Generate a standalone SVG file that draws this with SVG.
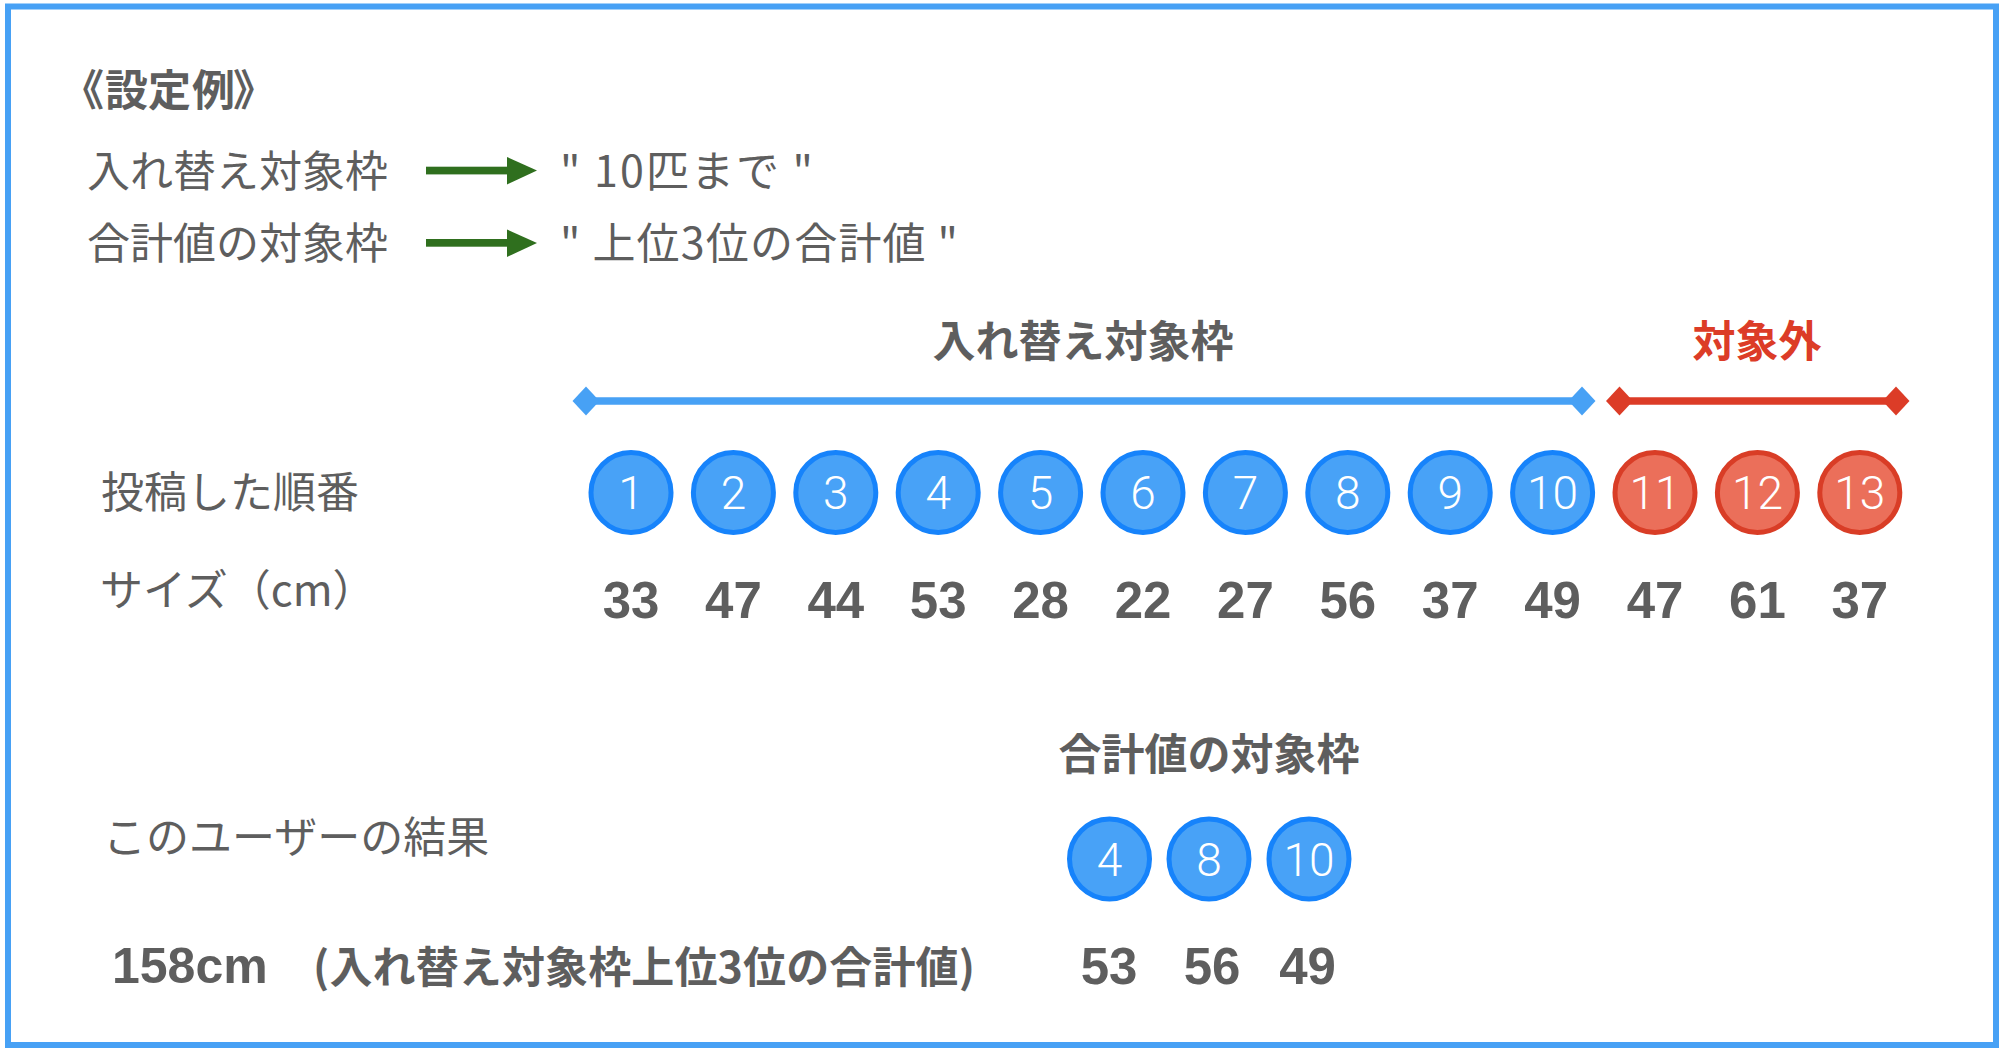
<svg xmlns="http://www.w3.org/2000/svg" width="2002" height="1052" viewBox="0 0 2002 1052">
<style>
.jp{font-family:"Noto Sans CJK JP","Noto Sans CJK SC",sans-serif;fill:#5e5e5e;font-size:43px}
.b{font-weight:700}
.red{fill:#dc3c27}
.num{font-family:"Liberation Sans",Arial,sans-serif;font-weight:700;font-size:51px;fill:#5e5e5e;text-anchor:middle}
.cb{fill:#48a2f7;stroke:#1683fb;stroke-width:5}
.cr{fill:#eb6f5a;stroke:#d93d26;stroke-width:5}
.ct{font-family:Roboto,"Open Sans",sans-serif;font-weight:300;font-size:46px;fill:#ffffff;text-anchor:middle}
.arr{fill:#2f6f1e}
</style>
<rect x="0" y="0" width="2002" height="1052" fill="#ffffff"/>
<rect id="frame" x="8" y="6.5" width="1988" height="1038.5" fill="#ffffff" stroke="#47a1f5" stroke-width="6"/>

<g id="title"><text class="jp b" x="61 105 148 192 233" y="106">《設定例》</text></g>

<g id="setting1">
<text class="jp" x="87" y="187">入れ替え対象枠</text>
<text class="jp" x="560" y="187" textLength="253" lengthAdjust="spacing">" 10匹まで "</text>
</g>
<g id="setting2">
<text class="jp" x="87" y="259">合計値の対象枠</text>
<text class="jp" x="560" y="259" textLength="398" lengthAdjust="spacing">" 上位3位の合計値 "</text>
</g>

<g id="connectors">
<rect class="arr" x="426" y="166.7" width="84" height="7.7"/>
<polygon class="arr" points="507,157 537,170.5 507,184.5"/>
<rect class="arr" x="426" y="239" width="84" height="7.7"/>
<polygon class="arr" points="507,229.5 537,243 507,257"/>
<line x1="586" y1="401" x2="1582" y2="401" stroke="#47a1f5" stroke-width="7.5"/>
<polygon points="572.5,401 586,386.5 599.5,401 586,415.5" fill="#47a1f5"/>
<polygon points="1568.5,401 1582,386.5 1595.5,401 1582,415.5" fill="#47a1f5"/>
<line x1="1619.5" y1="401" x2="1896" y2="401" stroke="#dc3c27" stroke-width="7.5"/>
<polygon points="1606,401 1619.5,386.5 1633,401 1619.5,415.5" fill="#dc3c27"/>
<polygon points="1882.5,401 1896,386.5 1909.5,401 1896,415.5" fill="#dc3c27"/>
</g>

<g id="label-in"><text class="jp b" x="1083" y="357" text-anchor="middle">入れ替え対象枠</text></g>
<g id="label-out"><text class="jp b red" x="1757" y="357" text-anchor="middle">対象外</text></g>

<g id="row-labels">
<text class="jp" x="101" y="508">投稿した順番</text>
<text class="jp" x="100" y="606">サイズ（cm）</text>
</g>

<g id="n1"><circle class="cb" cx="631" cy="492.5" r="40"/><text class="ct" x="631" y="509">1</text></g>
<g id="n2"><circle class="cb" cx="733.4" cy="492.5" r="40"/><text class="ct" x="733.4" y="509">2</text></g>
<g id="n3"><circle class="cb" cx="835.8" cy="492.5" r="40"/><text class="ct" x="835.8" y="509">3</text></g>
<g id="n4"><circle class="cb" cx="938.2" cy="492.5" r="40"/><text class="ct" x="938.2" y="509">4</text></g>
<g id="n5"><circle class="cb" cx="1040.6" cy="492.5" r="40"/><text class="ct" x="1040.6" y="509">5</text></g>
<g id="n6"><circle class="cb" cx="1143" cy="492.5" r="40"/><text class="ct" x="1143" y="509">6</text></g>
<g id="n7"><circle class="cb" cx="1245.4" cy="492.5" r="40"/><text class="ct" x="1245.4" y="509">7</text></g>
<g id="n8"><circle class="cb" cx="1347.8" cy="492.5" r="40"/><text class="ct" x="1347.8" y="509">8</text></g>
<g id="n9"><circle class="cb" cx="1450.2" cy="492.5" r="40"/><text class="ct" x="1450.2" y="509">9</text></g>
<g id="n10"><circle class="cb" cx="1552.6" cy="492.5" r="40"/><text class="ct" x="1552.6" y="509">10</text></g>
<g id="n11"><circle class="cr" cx="1655" cy="492.5" r="40"/><text class="ct" x="1655" y="509">11</text></g>
<g id="n12"><circle class="cr" cx="1757.4" cy="492.5" r="40"/><text class="ct" x="1757.4" y="509">12</text></g>
<g id="n13"><circle class="cr" cx="1859.8" cy="492.5" r="40"/><text class="ct" x="1859.8" y="509">13</text></g>

<g id="sizes">
<text class="num" x="631" y="618">33</text>
<text class="num" x="733.4" y="618">47</text>
<text class="num" x="835.8" y="618">44</text>
<text class="num" x="938.2" y="618">53</text>
<text class="num" x="1040.6" y="618">28</text>
<text class="num" x="1143" y="618">22</text>
<text class="num" x="1245.4" y="618">27</text>
<text class="num" x="1347.8" y="618">56</text>
<text class="num" x="1450.2" y="618">37</text>
<text class="num" x="1552.6" y="618">49</text>
<text class="num" x="1655" y="618">47</text>
<text class="num" x="1757.4" y="618">61</text>
<text class="num" x="1859.8" y="618">37</text>
</g>

<g id="label-sum"><text class="jp b" x="1209" y="770" text-anchor="middle">合計値の対象枠</text></g>
<g id="result-label"><text class="jp" x="103" y="853">このユーザーの結果</text></g>

<g id="s4"><circle class="cb" cx="1109.5" cy="859" r="40"/><text class="ct" x="1109.5" y="875.5">4</text></g>
<g id="s8"><circle class="cb" cx="1209" cy="859" r="40"/><text class="ct" x="1209" y="875.5">8</text></g>
<g id="s10"><circle class="cb" cx="1309" cy="859" r="40"/><text class="ct" x="1309" y="875.5">10</text></g>

<g id="result">
<text class="jp b" y="983"><tspan x="112" style="font-family:'Liberation Sans',Arial,sans-serif;font-size:50px">158cm</tspan><tspan x="313" textLength="662" lengthAdjust="spacing">(入れ替え対象枠上位3位の合計値)</tspan></text>
</g>
<g id="result-sizes">
<text class="num" x="1109" y="984">53</text>
<text class="num" x="1212" y="984">56</text>
<text class="num" x="1307.5" y="984">49</text>
</g>
</svg>
